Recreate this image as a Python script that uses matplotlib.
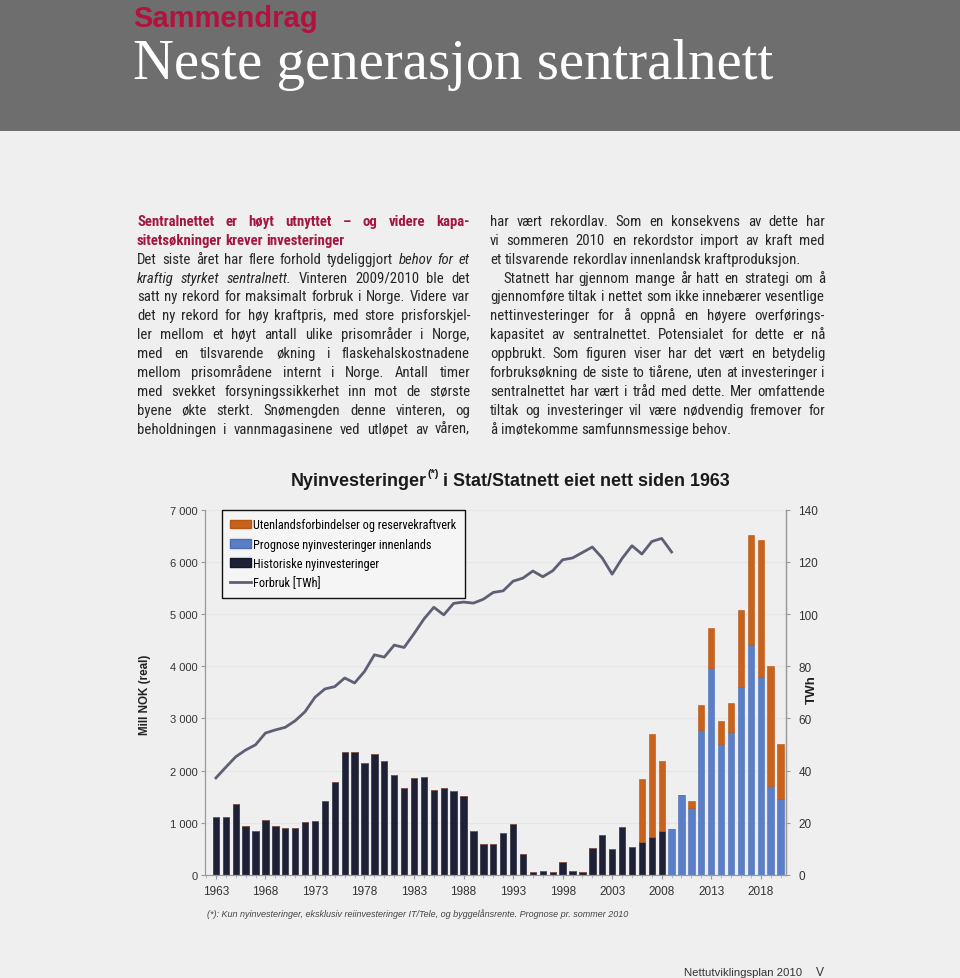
import matplotlib
matplotlib.use("Agg")
import matplotlib.pyplot as plt
from matplotlib.transforms import Affine2D
from matplotlib.patches import Rectangle, Patch
from matplotlib.lines import Line2D
from matplotlib import font_manager
from matplotlib.ticker import FuncFormatter, MultipleLocator
import numpy as np

# ---------------- data ----------------
years = list(range(1963, 2021))
historiske = [1120, 1120, 1370, 945, 835, 1060, 945, 900, 910, 1010,
              1030, 1410, 1775, 2360, 2360, 2150, 2325, 2175, 1912, 1676,
              1852, 1871, 1632, 1675, 1615, 1520, 849, 589, 594, 802,
              974, 396, 57, 72, 64, 258, 86, 48, 517, 760,
              498, 923, 530, 640, 737, 838,
              0, 0, 0, 0, 0, 0, 0, 0, 0, 0, 0, 0]
prognose = [0] * 46 + [885, 1525, 1293, 2788, 3970, 2513, 2736, 3605, 4413, 3800, 1702, 1453]
utenlands = [0] * 43 + [1200, 1958, 1337, 0, 0, 128, 467, 766, 437, 569, 1482, 2107, 2612, 2309, 1054]
forbruk_years = list(range(1963, 2010))
forbruk = [37.2, 41.3, 45.3, 47.9, 49.9, 54.4, 55.6, 56.6, 59.1, 62.6,
           68.1, 71.3, 72.2, 75.5, 73.6, 78.0, 84.4, 83.5, 88.1, 87.2,
           92.5, 98.1, 102.6, 99.7, 104.1, 104.6, 104.2, 105.7, 108.3, 108.9,
           112.6, 113.8, 116.5, 114.3, 116.6, 120.8, 121.5, 123.6, 125.7, 121.5,
           115.3, 121.3, 126.2, 123.0, 127.8, 129.0, 123.8]
legend_labels = ["Utenlandsforbindelser og reservekraftverk",
                 "Prognose nyinvesteringer innenlands",
                 "Historiske nyinvesteringer",
                 "Forbruk [TWh]"]
xtick_years = list(range(1963, 2019, 5))
left_ticks = list(range(0, 7001, 1000))
right_ticks = list(range(0, 141, 20))

# ---------------- page text ----------------
left_col = [
    ([("Sentralnettet er høyt utnyttet – og videre kapa-", "h")], True),
    ([("sitetsøkninger krever investeringer", "h")], False),
    ([("Det siste året har flere forhold tydeliggjort", "n"), ("behov for et", "i")], True),
    ([("kraftig styrket sentralnett.", "i"), ("Vinteren 2009/2010 ble det", "n")], True),
    ([("satt ny rekord for maksimalt forbruk i Norge. Videre var", "n")], True),
    ([("det ny rekord for høy kraftpris, med store prisforskjel-", "n")], True),
    ([("ler mellom et høyt antall ulike prisområder i Norge,", "n")], True),
    ([("med en tilsvarende økning i flaskehalskostnadene", "n")], True),
    ([("mellom prisområdene internt i Norge. Antall timer", "n")], True),
    ([("med svekket forsyningssikkerhet inn mot de største", "n")], True),
    ([("byene økte sterkt. Snømengden denne vinteren, og", "n")], True),
    ([("beholdningen i vannmagasinene ved utløpet av våren,", "n")], True),
]
right_col = [
    ([("har vært rekordlav. Som en konsekvens av dette har", "n")], True),
    ([("vi sommeren 2010 en rekordstor import av kraft med", "n")], True),
    ([("et tilsvarende rekordlav innenlandsk kraftproduksjon.", "n")], False),
    ([("Statnett har gjennom mange år hatt en strategi om å", "n")], True),
    ([("gjennomføre tiltak i nettet som ikke innebærer vesentlige", "n")], True),
    ([("nettinvesteringer for å oppnå en høyere overførings-", "n")], True),
    ([("kapasitet av sentralnettet. Potensialet for dette er nå", "n")], True),
    ([("oppbrukt. Som figuren viser har det vært en betydelig", "n")], True),
    ([("forbruksøkning de siste to tiårene, uten at investeringer i", "n")], True),
    ([("sentralnettet har vært i tråd med dette. Mer omfattende", "n")], True),
    ([("tiltak og investeringer vil være nødvendig fremover for", "n")], True),
    ([("å imøtekomme samfunnsmessige behov.", "n")], False),
]

# ---------------- figure ----------------
W, H = 960, 979
fig = plt.figure(figsize=(W / 100, H / 100), dpi=100)
fig.patch.set_facecolor("#efefef")
PX = Affine2D().scale(1, -1).translate(0, H)
renderer = fig.canvas.get_renderer()
ttf = font_manager.fontManager.ttflist
names = {f.name for f in ttf}
SANS = "Liberation Sans"
SERIF = "Liberation Serif"


def pick_narrow():
    for p in ["Liberation Sans Narrow", "Roboto Condensed", "Noto Sans Condensed",
              "Noto Sans SemiCondensed", "Open Sans Condensed", "DejaVu Sans Condensed"]:
        if p in names:
            return p, "normal"
    for fam in ["Noto Sans", "Roboto", "DejaVu Sans", "Open Sans"]:
        for f in ttf:
            if f.name == fam and (f.stretch in ("condensed", "semi-condensed")
                                  or (isinstance(f.stretch, int) and f.stretch < 500)):
                return fam, "condensed"
    return "Roboto", "normal"


BODY, BODY_STRETCH = pick_narrow()


def txt(x, y, s, **kw):
    return fig.text(x, y, s, transform=PX, **kw)


def wid(t):
    return t.get_window_extent(renderer).width


def fit(x, y, s, target, size0=10, **kw):
    t = txt(x, y, s, fontsize=size0, **kw)
    t.set_fontsize(size0 * target / wid(t))
    return t


# header band
fig.add_artist(Rectangle((0, 0), W, 132, transform=PX, facecolor="#6e6e6e", edgecolor="none"))
fit(133, 27, "Sammendrag", 185, family=SANS, weight="bold", color="#b3123f", va="baseline")
fit(133, 79, "Neste generasjon sentralnett", 640, family=SERIF, color="white", va="baseline")


# body text columns
def word_list(segs):
    out = []
    for s, st in segs:
        for w in s.split():
            out.append((w, st))
    return out


def style_kw(st, size):
    kw = dict(fontsize=size, family=BODY, fontstretch=BODY_STRETCH, va="baseline", ha="left",
              color="#262626")
    if st == "i":
        kw["style"] = "italic"
    if st == "h":
        kw["weight"] = "bold"
        kw["color"] = "#a3163d"
    return kw


def space_w(size):
    t1 = txt(0, 0, "x x", **style_kw("n", size)); t2 = txt(0, 0, "xx", **style_kw("n", size))
    sp = wid(t1) - wid(t2)
    t1.remove(); t2.remove()
    return sp


def natural(lines, size, x0, x1, indents):
    worst = 0
    sp = space_w(size)
    for i, (segs, just) in enumerate(lines):
        ws = word_list(segs)
        tot = 0
        for w, st in ws:
            t = txt(0, 0, w, **style_kw(st, size))
            tot += wid(t)
            t.remove()
        target = x1 - x0 - indents.get(i, 0)
        worst = max(worst, (tot + sp * (len(ws) - 1)) / target)
    return worst


def draw_col(lines, x0, x1, y0, dy, size, indents):
    sp = space_w(size)
    for i, (segs, just) in enumerate(lines):
        y = y0 + i * dy
        xs = x0 + indents.get(i, 0)
        ws = word_list(segs)
        arts, widths = [], []
        for w, st in ws:
            t = txt(xs, y, w, **style_kw(st, size))
            arts.append(t); widths.append(wid(t))
        gap = (x1 - xs - sum(widths)) / (len(ws) - 1) if (just and len(ws) > 1) else sp
        x = xs
        for t, w in zip(arts, widths):
            t.set_x(x)
            x += w + gap


LX0, LX1, RX0, RX1 = 137, 470, 490, 825
r_indent = {3: 13}
base = 10.0
need = max(natural(left_col, base, LX0, LX1, {}), natural(right_col, base, RX0, RX1, r_indent))
body_size = min(11.5, base / need * 0.98)
draw_col(left_col, LX0, LX1, 226, 18.87, body_size, {})
draw_col(right_col, RX0, RX1, 226, 18.87, body_size, r_indent)

# ---------------- chart ----------------
ax = fig.add_axes([205 / W, (H - 876) / H, (786 - 205) / W, (876 - 510.7) / H])
ax.patch.set_alpha(0)
yrs = np.array(years)
hist = np.array(historiske)
prog = np.array(prognose)
uten = np.array(utenlands)
bw = 0.64
ax.bar(yrs, hist, width=bw, color="#1e2136", edgecolor="#15172a", linewidth=0.4)
ax.bar(yrs, prog, width=bw, bottom=hist, color="#5a7fc8", edgecolor="#4a6db3", linewidth=0.4)
ax.bar(yrs, uten, width=bw, bottom=hist + prog, color="#c9621d", edgecolor="#b55516", linewidth=0.4)
ax.set_xlim(1961.9, 2020.55)
ax.set_ylim(0, 7000)
ax.set_yticks(left_ticks)
ax.yaxis.set_major_formatter(FuncFormatter(lambda v, p: f"{int(v):,}".replace(",", " ")))
ax.set_xticks(xtick_years)
ax.xaxis.set_minor_locator(MultipleLocator(1))
for y in left_ticks[1:]:
    ax.axhline(y, color="#e6e6e6", lw=0.8, zorder=0)
ax.spines["top"].set_visible(False)
for s in ["left", "bottom", "right"]:
    ax.spines[s].set_color("#9a9a9a")
    ax.spines[s].set_linewidth(0.9)
ax.tick_params(axis="y", labelsize=8, colors="#9a9a9a", labelcolor="#333333", length=3, pad=2)
ax.tick_params(axis="x", which="major", labelsize=8.5, colors="#9a9a9a", labelcolor="#333333", length=3, pad=4)
ax.tick_params(axis="x", which="minor", colors="#b0b0b0", length=2)
for lab in ax.get_xticklabels() + ax.get_yticklabels():
    lab.set_family(SANS)

ax2 = ax.twinx()
ax2.set_ylim(0, 140)
ax2.set_yticks(right_ticks)
ax2.plot(forbruk_years, forbruk, color="#5d6074", lw=2.0, solid_joinstyle="round")
for s in ["top", "left", "bottom"]:
    ax2.spines[s].set_visible(False)
ax2.spines["right"].set_color("#9a9a9a")
ax2.spines["right"].set_linewidth(0.9)
ax2.tick_params(axis="y", labelsize=8.5, colors="#9a9a9a", labelcolor="#333333", length=3, pad=6)
for lab in ax2.get_yticklabels():
    lab.set_family(SANS)

# legend font: fit the longest label to ~202 px
tl = txt(0, 0, legend_labels[0], fontsize=10, family=BODY, fontstretch=BODY_STRETCH)
leg_size = min(9.0, 10 * 202.0 / wid(tl))
tl.remove()
handles = [Patch(facecolor="#c9621d", edgecolor="#b55516"),
           Patch(facecolor="#5a7fc8", edgecolor="#4a6db3"),
           Patch(facecolor="#1e2136", edgecolor="#15172a"),
           Line2D([], [], color="#5d6074", lw=2)]
leg_h_px = leg_size * 100 / 72.0
leg = ax2.legend(handles, legend_labels, loc="upper left", bbox_to_anchor=(0.029, 0, 0.418, 1.0),
                 mode="expand", borderaxespad=0, frameon=True, fancybox=False,
                 prop={"family": BODY, "size": leg_size, "stretch": BODY_STRETCH},
                 handlelength=21 / leg_h_px, handleheight=0.7,
                 handletextpad=0.15, labelspacing=max(0.3, (21.7 - 1.25 * leg_h_px) / leg_h_px),
                 borderpad=0.7)
leg.get_frame().set_edgecolor("#111111")
leg.get_frame().set_linewidth(1.0)
leg.get_frame().set_facecolor("#f5f5f5")
leg.get_frame().set_alpha(1)

# axis labels
t = fit(0, 0, "Mill NOK (real)", 80, family=SANS, weight="bold", color="#222222", ha="center", va="center")
t.set_position((145, 695)); t.set_rotation(90)
t = fit(0, 0, "TWh", 29, family=SANS, weight="bold", color="#222222", ha="center", va="center")
t.set_position((812, 690)); t.set_rotation(90)

# chart title with superscript
p1, sup, p3 = "Nyinvesteringer", "(*)", " i Stat/Statnett eiet nett siden 1963"
ta = txt(0, 0, p1, fontsize=10, family=SANS, weight="bold")
tb = txt(0, 0, sup, fontsize=6, family=SANS, weight="bold")
tc = txt(0, 0, p3, fontsize=10, family=SANS, weight="bold")
k = 437.0 / (wid(ta) + wid(tb) + wid(tc))
for tt, s0 in ((ta, 10), (tb, 6), (tc, 10)):
    tt.set_fontsize(s0 * k)
    tt.set_color("#1a1a1a")
    tt.set_va("baseline")
x = 291
ta.set_position((x, 486)); x += wid(ta)
tb.set_position((x, 477)); x += wid(tb)
tc.set_position((x, 486))

# footnote and footer
fit(207, 917, "(*): Kun nyinvesteringer, eksklusiv reiinvesteringer IT/Tele, og byggelånsrente. Prognose pr. sommer 2010",
    423, family=SANS, style="italic", color="#444444", va="baseline")
fit(684, 976, "Nettutviklingsplan 2010", 118, family=SANS, color="#333333", va="baseline")
fit(816, 976, "V", 8, family=SANS, color="#333333", va="baseline")

fig.savefig("out.png", dpi=100, facecolor=fig.get_facecolor())
